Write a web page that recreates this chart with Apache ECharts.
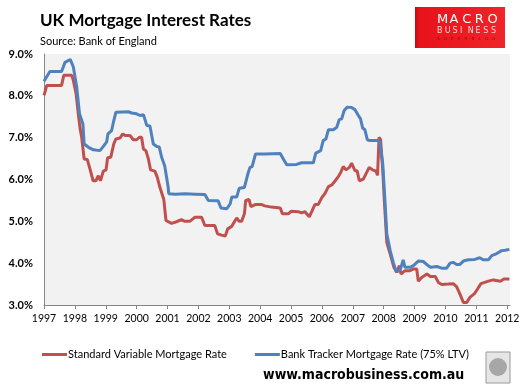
<!DOCTYPE html>
<html>
<head>
<meta charset="utf-8">
<script src="https://cdn.jsdelivr.net/npm/echarts@6/dist/echarts.min.js"></script>
<style>html,body{margin:0;padding:0;background:#fff}#c{width:532px;height:390px}</style>
</head>
<body>
<div id="c"></div>
<script>
// ---- data ----
const yearTicks = [1997,1998,1999,2000,2001,2002,2003,2004,2005,2006,2007,2008,2009,2010,2011,2012];
const rateTicks = [3,4,5,6,7,8,9];

const svrYears = [1997.00,1997.09,1997.57,1997.64,1997.90,1997.95,1998.04,1998.11,1998.17,1998.22,1998.30,1998.40,1998.49,1998.59,1998.68,1998.76,1998.83,1998.92,1999.01,1999.06,1999.16,1999.26,1999.33,1999.46,1999.55,1999.63,1999.79,1999.89,2000.00,2000.09,2000.16,2000.22,2000.30,2000.38,2000.45,2000.59,2000.67,2000.75,2000.88,2000.95,2001.13,2001.29,2001.45,2001.56,2001.72,2001.89,2002.10,2002.21,2002.53,2002.62,2002.75,2002.87,2002.95,2003.08,2003.19,2003.24,2003.32,2003.40,2003.49,2003.53,2003.64,2003.70,2003.84,2004.05,2004.15,2004.36,2004.65,2004.72,2004.91,2005.00,2005.05,2005.23,2005.34,2005.45,2005.59,2005.67,2005.77,2005.88,2005.99,2006.10,2006.21,2006.32,2006.43,2006.53,2006.61,2006.69,2006.78,2006.89,2006.96,2007.07,2007.14,2007.21,2007.34,2007.45,2007.53,2007.64,2007.75,2007.80,2007.85,2007.90,2007.97,2008.02,2008.10,2008.21,2008.33,2008.42,2008.51,2008.56,2008.69,2008.85,2008.96,2009.07,2009.12,2009.23,2009.40,2009.51,2009.67,2009.77,2009.88,2010.09,2010.25,2010.36,2010.47,2010.58,2010.69,2010.79,2010.95,2011.07,2011.15,2011.39,2011.55,2011.78,2011.89,2012.07];
const svrRates = [8.01,8.25,8.25,8.49,8.49,8.37,8.05,7.57,7.21,7.01,6.49,6.48,6.25,5.97,5.97,6.09,5.97,6.20,6.23,6.52,6.53,6.85,6.97,6.99,7.09,7.05,7.05,6.95,6.95,7.01,7.01,6.73,6.69,6.49,6.23,6.20,6.05,5.82,5.52,5.02,4.95,4.99,5.04,5.00,5.00,5.10,5.10,4.90,4.90,4.70,4.67,4.65,4.82,4.88,5.02,5.08,5.00,5.00,5.18,5.50,5.52,5.35,5.40,5.40,5.37,5.34,5.32,5.18,5.18,5.24,5.26,5.23,5.20,5.23,5.11,5.23,5.40,5.40,5.56,5.67,5.83,5.87,5.97,6.07,6.17,6.31,6.23,6.29,6.39,6.21,6.21,5.97,6.01,6.17,6.29,6.23,6.20,6.10,7.01,6.95,6.21,5.50,4.50,4.22,3.90,3.78,3.94,3.74,3.82,3.82,3.86,3.86,3.57,3.66,3.74,3.68,3.68,3.54,3.49,3.50,3.51,3.44,3.26,3.06,3.06,3.18,3.28,3.42,3.51,3.57,3.60,3.57,3.62,3.62];

const trackerYears = [1997.00,1997.19,1997.57,1997.68,1997.85,1997.95,1998.06,1998.15,1998.26,1998.30,1998.44,1998.60,1998.81,1998.91,1999.03,1999.07,1999.19,1999.26,1999.33,1999.73,1999.84,2000.00,2000.11,2000.22,2000.33,2000.43,2000.54,2000.65,2000.73,2000.81,2000.91,2001.02,2001.04,2001.25,2001.57,2001.89,2002.21,2002.32,2002.64,2002.73,2002.92,2003.03,2003.08,2003.24,2003.32,2003.49,2003.60,2003.67,2003.74,2003.85,2004.15,2004.65,2004.75,2004.86,2005.18,2005.34,2005.72,2005.80,2005.96,2006.04,2006.13,2006.21,2006.37,2006.48,2006.56,2006.64,2006.72,2006.82,2006.96,2007.07,2007.18,2007.25,2007.32,2007.39,2007.47,2007.55,2007.79,2007.87,2007.97,2008.04,2008.10,2008.21,2008.31,2008.40,2008.51,2008.56,2008.63,2008.69,2008.85,2008.96,2009.12,2009.28,2009.44,2009.53,2009.72,2009.88,2010.04,2010.15,2010.25,2010.36,2010.47,2010.58,2010.74,2010.95,2011.11,2011.22,2011.39,2011.50,2011.66,2011.82,2011.93,2012.07];
const trackerRates = [8.35,8.58,8.58,8.80,8.87,8.69,8.21,7.57,7.33,6.85,6.77,6.71,6.69,6.78,6.90,7.09,7.17,7.41,7.61,7.62,7.59,7.57,7.53,7.55,7.29,7.28,6.85,6.79,6.78,6.53,6.32,5.82,5.66,5.65,5.66,5.65,5.64,5.50,5.49,5.32,5.30,5.42,5.58,5.58,5.79,5.81,6.13,6.29,6.31,6.61,6.61,6.62,6.49,6.35,6.36,6.40,6.40,6.63,6.69,6.93,6.97,7.19,7.19,7.25,7.43,7.45,7.65,7.73,7.72,7.67,7.53,7.45,7.23,7.19,6.95,6.93,6.93,6.91,6.37,5.50,4.70,4.30,4.02,3.81,3.81,3.90,4.08,3.90,3.90,3.94,4.05,4.04,3.94,3.90,3.92,3.88,3.88,4.00,4.02,3.97,3.97,4.05,4.08,4.09,4.13,4.08,4.08,4.18,4.23,4.30,4.31,4.33];

const seriesNames = ['Standard Variable Mortgage Rate', 'Bank Tracker Mortgage Rate (75% LTV)'];
const titleText = 'UK Mortgage Interest Rates';
const subtitleText = 'Source: Bank of England';
const footerText = 'www.macrobusiness.com.au';

// ---- chart ----
const zip = (xs, ys) => xs.map((x, i) => [x, ys[i]]);
const chart = echarts.init(document.getElementById('c'), null, {renderer: 'canvas'});
const FONT = 'Lato, "Open Sans", sans-serif';

const logoLetters = [];
'MACRO'.split('').forEach((ch, i) => logoLetters.push({type:'text', left: 437 + i*12.6, top: 13, style:{text: ch, fill:'#fff', font:'13px "DejaVu Sans", sans-serif'}}));
'BUSINESS'.split('').forEach((ch, i) => logoLetters.push({type:'text', left: 437 + i*7.7, top: 27, style:{text: ch, fill:'#ffd7d7', font:'8px "DejaVu Sans", sans-serif'}}));
'SUPERBLOG'.split('').forEach((ch, i) => logoLetters.push({type:'text', left: 437 + i*6.9, top: 37, style:{text: ch, fill:'#a3080c', font:'4px "DejaVu Sans", sans-serif'}}));

chart.setOption({
  backgroundColor: '#ffffff',
  animation: false,
  grid: {left: 44, top: 54, width: 466, height: 251, show: true, backgroundColor: '#F2F2F2', borderWidth: 0},
  xAxis: {
    type: 'value', min: 1997, max: 2012.09,
    axisLine: {show: true, lineStyle: {color: '#868686', width: 1}},
    axisTick: {show: true, customValues: yearTicks, length: 4, lineStyle: {color: '#868686'}},
    axisLabel: {customValues: yearTicks, formatter: v => String(v), color: '#000', fontFamily: FONT, fontSize: 10.5, margin: 8},
    splitLine: {show: false}
  },
  yAxis: {
    type: 'value', min: 3, max: 9, interval: 1,
    axisLine: {show: true, lineStyle: {color: '#868686', width: 1}},
    axisTick: {show: false},
    axisLabel: {formatter: v => v.toFixed(1) + '%', color: '#000', fontFamily: FONT, fontWeight: 'bold', fontSize: 11, margin: 11},
    splitLine: {show: false}
  },
  legend: {
    left: 37, top: 344, itemWidth: 25, itemHeight: 3, itemGap: 28, icon: 'rect',
    textStyle: {fontFamily: FONT, fontSize: 11, color: '#000', padding: [0,0,0,-4]},
    data: seriesNames
  },
  series: [
    {name: seriesNames[0], type: 'line', data: zip(svrYears, svrRates), showSymbol: false, color: '#C0504D', lineStyle: {width: 3, color: '#C0504D'}},
    {name: seriesNames[1], type: 'line', data: zip(trackerYears, trackerRates), showSymbol: false, color: '#4F81BD', lineStyle: {width: 3, color: '#4F81BD'}}
  ],
  graphic: [
    {type: 'text', left: 40, top: 12, style: {text: titleText, fill: '#000', font: 'bold 17px ' + FONT}},
    {type: 'text', left: 40, top: 36, style: {text: subtitleText, fill: '#000', font: '11px ' + FONT}},
    {type: 'rect', shape: {x: 415, y: 7, width: 90, height: 41}, style: {fill: new echarts.graphic.LinearGradient(0, 0, 1, 0, [{offset: 0, color: '#c8070e'}, {offset: 0.05, color: '#e8121a'}, {offset: 1, color: '#f0242a'}])}},
    ...logoLetters,
    {type: 'text', left: 263, top: 368, style: {text: footerText, fill: '#000', font: 'bold 14px "DejaVu Sans Condensed", "DejaVu Sans", sans-serif'}},
    {type: 'rect', shape: {x: 486, y: 352, width: 24, height: 31}, style: {fill: '#e6e6e6', stroke: '#9a9a9a', lineWidth: 1}},
    {type: 'circle', shape: {cx: 498, cy: 367, r: 9}, style: {fill: '#8c8c8c', opacity: 0.7}}
  ]
});
</script>
</body>
</html>
